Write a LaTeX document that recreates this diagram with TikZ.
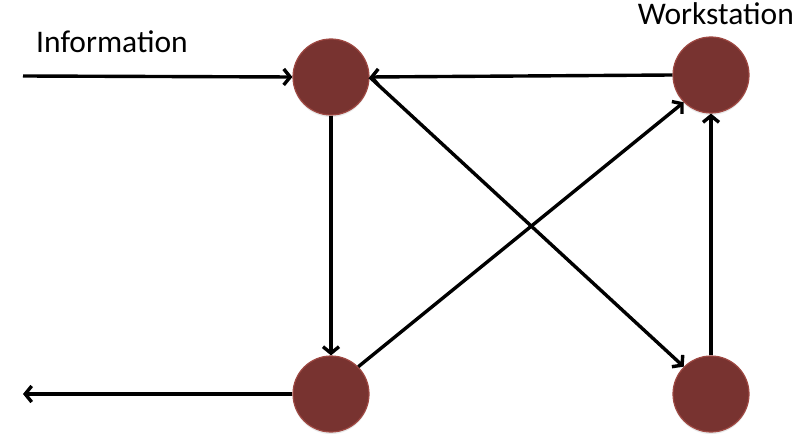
\documentclass[tikz,border=0pt]{standalone}
\usepackage{fontspec}
\setmainfont{Carlito}
\usetikzlibrary{arrows.meta,shadows}
\definecolor{nodefill}{RGB}{120,51,48}
\definecolor{nodeedge}{RGB}{158,72,66}
\tikzset{
  station/.style={circle, minimum size=76pt, inner sep=0pt, fill=nodefill, draw=nodeedge, line width=1.2pt,
    drop shadow={opacity=0.18, shadow xshift=0pt, shadow yshift=-2pt}},
  arr/.style={line width=3.4pt, -{Straight Barb[length=6.5pt,width=16pt]}},
  lbl/.style={font=\fontsize{31.5pt}{36pt}\selectfont, inner sep=0pt}
}
\begin{document}
\begin{tikzpicture}[x=1pt,y=-1pt]
\useasboundingbox (0,0) rectangle (800,446);
\fill[white] (0,0) rectangle (800,446);
\node[station] (TL) at (331,77) {};
\node[station] (TR) at (711,75) {};
\node[station] (BL) at (331,394) {};
\node[station] (BR) at (711,394) {};
\node[lbl, anchor=base west] (info) at (36,53) {Information};
\node[lbl, anchor=base east] (ws) at (794,25) {Workstation};
\coordinate (in) at (23,76);
\coordinate (out) at (23,394);
\draw[arr] (in) -- (TL.west);
\draw[arr] (BL.west) -- (out);
\draw[arr] (TR.west) -- (TL.east);
\draw[arr] (TL.south) -- (BL.north);
\draw[arr] (BL.45) -- (TR.225);
\draw[arr] (TL.east) -- (BR.135);
\draw[arr] (BR.north) -- (TR.south);
\end{tikzpicture}
\end{document}
